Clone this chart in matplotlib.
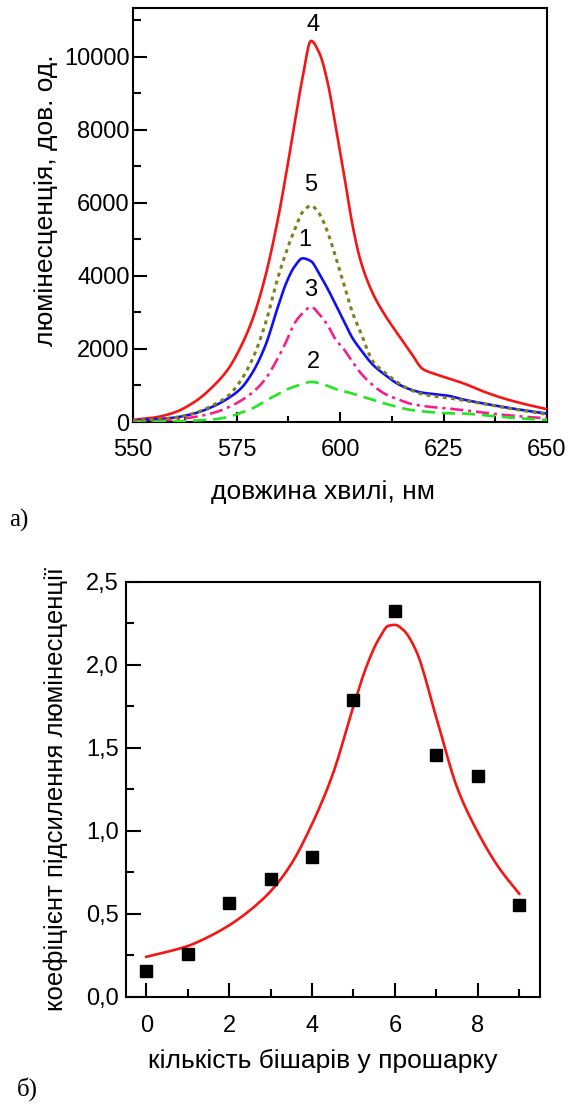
import matplotlib
matplotlib.use("Agg")
import numpy as np
import matplotlib.pyplot as plt
from matplotlib.ticker import MultipleLocator, FixedLocator

plt.rcParams['font.family'] = ['Liberation Sans', 'DejaVu Sans']

# ---------------- data: panel a) ----------------
wavelength = [550, 555, 560, 565, 570, 573, 576, 579, 582, 585, 587, 589, 591, 593,
              595, 597, 599, 601, 603, 605, 608, 611, 614, 617, 620, 623, 626, 630,
              635, 640, 645, 650]
curve1 = [40, 70, 120, 240, 460, 650, 910, 1380, 2100, 3150, 3800, 4250, 4480, 4400,
          4050, 3650, 3200, 2750, 2300, 1980, 1560, 1280, 1040, 890, 800, 760, 720, 610,
          500, 400, 310, 230]
curve2 = [5, 10, 20, 40, 80, 140, 250, 380, 580, 760, 880, 970, 1040, 1100,
          1060, 990, 900, 840, 780, 710, 600, 500, 410, 330, 290, 260, 240, 230,
          180, 130, 90, 55]
curve3 = [20, 35, 70, 140, 270, 400, 580, 820, 1180, 1750, 2200, 2700, 2980, 3150,
          2950, 2650, 2250, 1980, 1650, 1340, 1000, 760, 620, 500, 440, 400, 370, 320,
          250, 190, 140, 100]
curve4 = [60, 120, 260, 560, 1050, 1450, 2050, 2850, 4000, 5550, 6800, 8150, 9450, 10430,
          10100, 9300, 8050, 6750, 5400, 4400, 3500, 2900, 2400, 1920, 1450, 1310, 1200, 1050,
          820, 630, 480, 350]
curve5 = [40, 70, 120, 250, 500, 720, 1130, 1760, 2700, 3950, 4650, 5250, 5750, 5920,
          5700, 5200, 4500, 3750, 3000, 2450, 1650, 1340, 1080, 880, 760, 700, 660, 590,
          490, 390, 300, 210]
curve_labels = ['1', '2', '3', '4', '5']
label_x = [591.5, 593.7, 593.0, 593.5, 592.8]
label_y = [4980, 1640, 3610, 10870, 6490]

# ---------------- data: panel б) ----------------
bilayers = [0, 1, 2, 3, 4, 5, 6, 7, 8, 9]
enhancement = [0.155, 0.255, 0.563, 0.711, 0.840, 1.787, 2.325, 1.456, 1.331, 0.551]
fit_x = [0, 0.5, 1, 1.5, 2, 2.5, 3, 3.5, 4, 4.5, 5, 5.3, 5.6, 5.85, 6.0, 6.2, 6.5,
         7.0, 7.5, 8.0, 8.5, 9.0]
fit_y = [0.24, 0.27, 0.305, 0.36, 0.43, 0.52, 0.635, 0.80, 1.04, 1.34, 1.75, 1.98,
         2.15, 2.235, 2.24, 2.21, 2.09, 1.68, 1.26, 0.99, 0.78, 0.62]


def smooth_line(x, y, per_seg=12):
    """Monotone cubic (PCHIP) rendering through the read points."""
    x = np.asarray(x, float)
    y = np.asarray(y, float)
    h = np.diff(x)
    d = np.diff(y) / h
    m = np.zeros_like(y)
    m[0], m[-1] = d[0], d[-1]
    for k in range(1, len(x) - 1):
        if d[k - 1] * d[k] > 0:
            w1 = 2 * h[k] + h[k - 1]
            w2 = h[k] + 2 * h[k - 1]
            m[k] = (w1 + w2) / (w1 / d[k - 1] + w2 / d[k])
    xs, ys = [], []
    for k in range(len(x) - 1):
        t = np.linspace(0, 1, per_seg, endpoint=False)
        h00 = 2 * t**3 - 3 * t**2 + 1
        h10 = t**3 - 2 * t**2 + t
        h01 = -2 * t**3 + 3 * t**2
        h11 = t**3 - t**2
        xs.append(x[k] + t * h[k])
        ys.append(h00 * y[k] + h10 * h[k] * m[k] + h01 * y[k + 1] + h11 * h[k] * m[k + 1])
    xs.append([x[-1]])
    ys.append([y[-1]])
    return np.concatenate(xs), np.concatenate(ys)


W, H = 569, 1106
fig = plt.figure(figsize=(W / 100, H / 100), dpi=100)

TFS = 17   # tick labels
LFS = 19   # axis labels

# ---- panel a ----
ax1 = fig.add_axes([133 / W, 1 - 422 / H, 414 / W, 414 / H])
ax1.plot(*smooth_line(wavelength, curve4), color='#f51515', lw=1.9, zorder=3)
ax1.plot(*smooth_line(wavelength, curve1), color='#1010f5', lw=1.9, zorder=4)
ax1.plot(*smooth_line(wavelength, curve3), color='#f5208c', lw=1.9,
         dashes=(5, 1.8, 1.2, 1.8), zorder=5)
ax1.plot(*smooth_line(wavelength, curve2), color='#22e622', lw=1.9, dashes=(5, 2.6), zorder=5)
ax1.plot(*smooth_line(wavelength, curve5), color='#80801f', lw=2.2, dashes=(1.3, 1.4), zorder=6)
for t, x, y in zip(curve_labels, label_x, label_y):
    ax1.text(x, y, t, fontsize=TFS, ha='center', va='center')

ax1.set_xlim(550, 650)
ax1.set_ylim(0, 11330)
ax1.xaxis.set_major_locator(MultipleLocator(25))
ax1.xaxis.set_minor_locator(MultipleLocator(12.5))
ax1.yaxis.set_major_locator(MultipleLocator(2000))
ax1.yaxis.set_minor_locator(MultipleLocator(1000))
ax1.tick_params(axis='both', which='both', direction='in', top=False, right=False,
                labelsize=TFS, width=1.5)
ax1.tick_params(axis='x', which='major', length=7, pad=12.5)
ax1.tick_params(axis='x', which='minor', length=4)
ax1.tick_params(axis='y', which='major', length=10, pad=2.5)
ax1.tick_params(axis='y', which='minor', length=5.5)
for s in ax1.spines.values():
    s.set_linewidth(1.5)
ax1.set_xlabel('довжина хвилі, нм', fontsize=LFS)
ax1.xaxis.set_label_coords(0.458, -0.140)
ax1.set_ylabel('люмінесценція, дов. од.', fontsize=LFS)
ax1.yaxis.set_label_coords(-0.181, 0.535)

# ---- panel б ----
ax2 = fig.add_axes([125.5 / W, 1 - 996.7 / H, 414.5 / W, 415 / H])
ax2.plot(*smooth_line(fit_x, fit_y), color='#f51515', lw=1.9, zorder=3)
ax2.plot(bilayers, enhancement, ls='none', marker='s', ms=8.5, color='black', zorder=4)
ax2.set_xlim(-0.5, 9.5)
ax2.set_ylim(0, 2.5)
ax2.xaxis.set_major_locator(MultipleLocator(2))
ax2.xaxis.set_minor_locator(FixedLocator([1, 3, 5, 7, 9]))
ax2.yaxis.set_major_locator(MultipleLocator(0.5))
ax2.yaxis.set_minor_locator(MultipleLocator(0.25))
ax2.yaxis.set_major_formatter(plt.FuncFormatter(lambda v, p: f'{v:.1f}'.replace('.', ',')))
ax2.tick_params(axis='both', which='both', direction='in', top=False, right=False,
                labelsize=TFS, width=1.5)
ax2.tick_params(axis='x', which='major', length=10, pad=13)
ax2.tick_params(axis='x', which='minor', length=6)
ax2.tick_params(axis='y', which='major', length=11, pad=5)
ax2.tick_params(axis='y', which='minor', length=6)
for s in ax2.spines.values():
    s.set_linewidth(1.5)
ax2.set_xlabel('кількість бішарів у прошарку', fontsize=LFS)
ax2.xaxis.set_label_coords(0.475, -0.126)
ax2.set_ylabel('коефіцієнт підсилення люмінесценції', fontsize=18.5)
ax2.yaxis.set_label_coords(-0.139, 0.5)

fig.text(19 / W, 1 - 520 / H, 'а)', fontsize=18, family=['Liberation Serif', 'DejaVu Serif'],
         ha='center', va='center')
fig.text(27 / W, 1 - 1089 / H, 'б)', fontsize=18, family=['Liberation Serif', 'DejaVu Serif'],
         ha='center', va='center')

fig.savefig('out.png', dpi=100)
